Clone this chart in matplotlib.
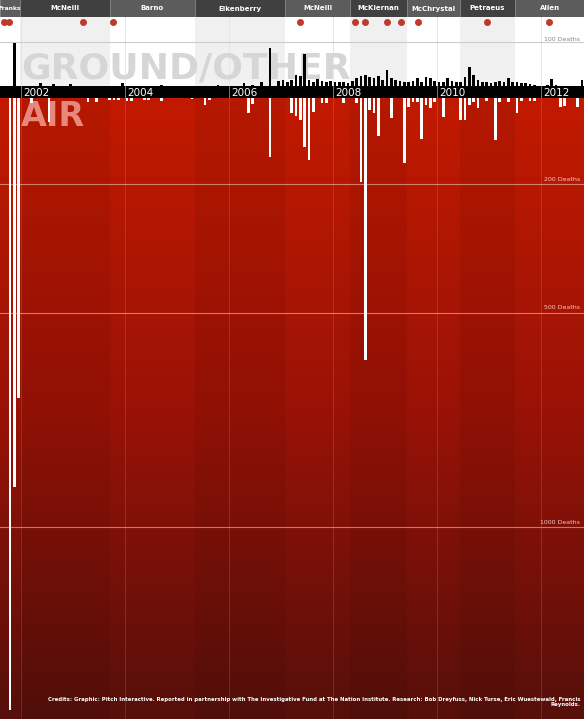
import numpy as np
import matplotlib
matplotlib.use("Agg")
import matplotlib.pyplot as plt
from matplotlib.colors import LinearSegmentedColormap

# monthly deaths, Oct 2001 .. Oct 2012 (133 months)
n_months = 133
ground_pts = {1: 98, 7: 6, 10: 5, 14: 5, 26: 7, 35: 3, 48: 2, 54: 7, 56: 3, 58: 10,
              60: 86, 62: 12, 63: 14, 64: 8, 65: 14, 66: 25, 67: 22, 68: 73, 69: 14,
              70: 10, 71: 16, 72: 12, 73: 8, 74: 12, 75: 10, 76: 8, 77: 8, 78: 7,
              79: 12, 80: 18, 81: 22, 82: 25, 83: 20, 84: 18, 85: 22, 86: 14, 87: 36,
              88: 18, 89: 14, 90: 12, 91: 10, 92: 8, 93: 12, 94: 18, 95: 10, 96: 20,
              97: 18, 98: 12, 99: 10, 100: 8, 101: 18, 102: 12, 103: 8, 104: 10,
              105: 20, 106: 43, 107: 25, 108: 14, 109: 10, 110: 8, 111: 7, 112: 8,
              113: 12, 114: 8, 115: 18, 116: 8, 117: 10, 118: 6, 119: 6, 120: 5,
              121: 3, 124: 2, 125: 17, 126: 2, 132: 13}
air_pts = {0: 1427, 1: 907, 2: 699, 5: 12, 9: 56, 18: 9, 20: 9, 23: 5, 24: 5, 25: 5,
           27: 7, 28: 7, 31: 5, 32: 5, 35: 7, 42: 3, 45: 16, 46: 5, 55: 35, 56: 14,
           60: 137, 65: 35, 66: 42, 67: 51, 68: 114, 69: 144, 70: 33, 72: 12, 73: 12,
           77: 12, 80: 12, 81: 195, 82: 611, 83: 28, 84: 35, 85: 88, 88: 47, 91: 151,
           92: 20, 93: 10, 94: 10, 95: 96, 96: 16, 97: 23, 98: 10, 100: 44, 104: 51,
           105: 51, 106: 16, 107: 10, 108: 23, 110: 7, 112: 98, 113: 10, 115: 10,
           117: 35, 118: 8, 120: 7, 121: 7, 127: 22, 128: 19, 131: 21}
ground = np.array([ground_pts.get(i, 0) for i in range(n_months)])
air = np.array([air_pts.get(i, 0) for i in range(n_months)])
month_x = 2001 + (9 + np.arange(n_months) + 0.5) / 12

commanders = ["Franks", "McNeill", "Barno", "Eikenberry", "McNeill", "McKiernan",
              "McChrystal", "Petraeus", "Allen"]
cmd_start = [2001.6, 2001.98, 2003.71, 2005.35, 2007.08, 2008.33, 2009.42, 2010.44, 2011.5]
cmd_end = cmd_start[1:] + [2012.84]
# dots = events in the top strip
event_x = [2001.68, 2001.78, 2003.19, 2003.77, 2007.37, 2008.42, 2008.62, 2009.04,
           2009.31, 2009.63, 2010.96, 2012.15]
year_ticks = [2002, 2004, 2006, 2008, 2010, 2012]

W, H = 584, 719
xl, xr = 2001.6, 2001.6 + W / 52.0
fig = plt.figure(figsize=(W / 100, H / 100), dpi=100)
fig.patch.set_facecolor("white")

def ax_px(top, bottom):
    return fig.add_axes([0, 1 - bottom / H, 1, (bottom - top) / H])

# commander band
axc = ax_px(0, 17)
axc.set_xlim(xl, xr); axc.set_ylim(0, 1); axc.axis("off")
for k, (name, s, e) in enumerate(zip(commanders, cmd_start, cmd_end)):
    axc.axvspan(s, e, color="#404040" if k % 2 else "#5c5c5c", lw=0)
    axc.axvline(s, color="#888888", lw=0.6)
    axc.text((s + e) / 2, 0.5, name, color="white", fontsize=4.3 if k == 0 else 5,
             weight="bold", ha="center", va="center")

# ground section
axg = ax_px(17, 86)
gs = 69 / 0.44
axg.set_xlim(xl, xr); axg.set_ylim(0, gs); axg.axis("off")
for k, (s, e) in enumerate(zip(cmd_start, cmd_end)):
    if k % 2:
        axg.axvspan(s, e, color="#f0f0f0", lw=0, zorder=0)
axg.axhline(100, color="#cccccc", lw=0.8, zorder=1)
axg.text(xr - 0.08, 101, "100 Deaths", fontsize=4.5, color="#888888", ha="right", va="bottom")
axg.text(2002.0, 2, "GROUND/OTHER", fontsize=26, weight="bold", color="#d6d6d6",
         ha="left", va="bottom", zorder=1)
axg.bar(month_x, ground, width=1 / 12 * 0.65, color="black", zorder=3)
axg.scatter(event_x, [145] * len(event_x), s=16, color="#c0392b", zorder=4)
for y in year_ticks:
    axg.axvline(y, color="#e2e2e2", lw=0.6, zorder=0.5)

# black band with years
axb = ax_px(86, 98)
axb.set_facecolor("black")
axb.set_xlim(xl, xr); axb.set_ylim(0, 1)
axb.set_xticks([]); axb.set_yticks([])
for s in axb.spines.values():
    s.set_visible(False)
for y in year_ticks:
    axb.axvline(y, color="#888888", lw=0.6)
    axb.text(y + 0.04, 0.45, str(y), color="white", fontsize=7.5, va="center")

# air section
axa = ax_px(98, 719)
amax = 621 / 0.429
axa.set_xlim(xl, xr); axa.set_ylim(amax, 0); axa.axis("off")
cmap = LinearSegmentedColormap.from_list("red", ["#c21a00", "#9a1206", "#560f0a"])
grad = np.linspace(0, 1, 256).reshape(-1, 1)
axa.imshow(grad, cmap=cmap, aspect="auto", extent=[xl, xr, amax, 0], zorder=0)
for k, (s, e) in enumerate(zip(cmd_start, cmd_end)):
    if k % 2:
        axa.axvspan(s, e, color="black", alpha=0.06, lw=0, zorder=0.5)
for y in year_ticks:
    axa.axvline(y, color="white", alpha=0.12, lw=0.8, zorder=0.6)
for v in [200, 500, 1000]:
    axa.axhline(v, color="white", alpha=0.45, lw=0.8, zorder=1)
    axa.text(xr - 0.08, v - 5, "%d Deaths" % v, fontsize=4.5, color="#f3c8c0",
             ha="right", va="bottom", zorder=1)
axa.text(2002.0, 4, "AIR", fontsize=24, weight="bold", color="#e8877c",
         ha="left", va="top", zorder=1)
axa.bar(month_x, air, width=1 / 12 * 0.65, color="white", zorder=3)
axa.text(xr - 0.07, 1408, "Credits: Graphic: Pitch Interactive. Reported in partnership with "
         "The Investigative Fund at The Nation Institute. Research: Bob Dreyfuss, Nick Turse, "
         "Eric Wuestewald, Francis\nReynolds.", fontsize=3.9, weight="bold", color="white",
         ha="right", va="center", multialignment="right", zorder=4)

fig.savefig("out.png", dpi=100)
